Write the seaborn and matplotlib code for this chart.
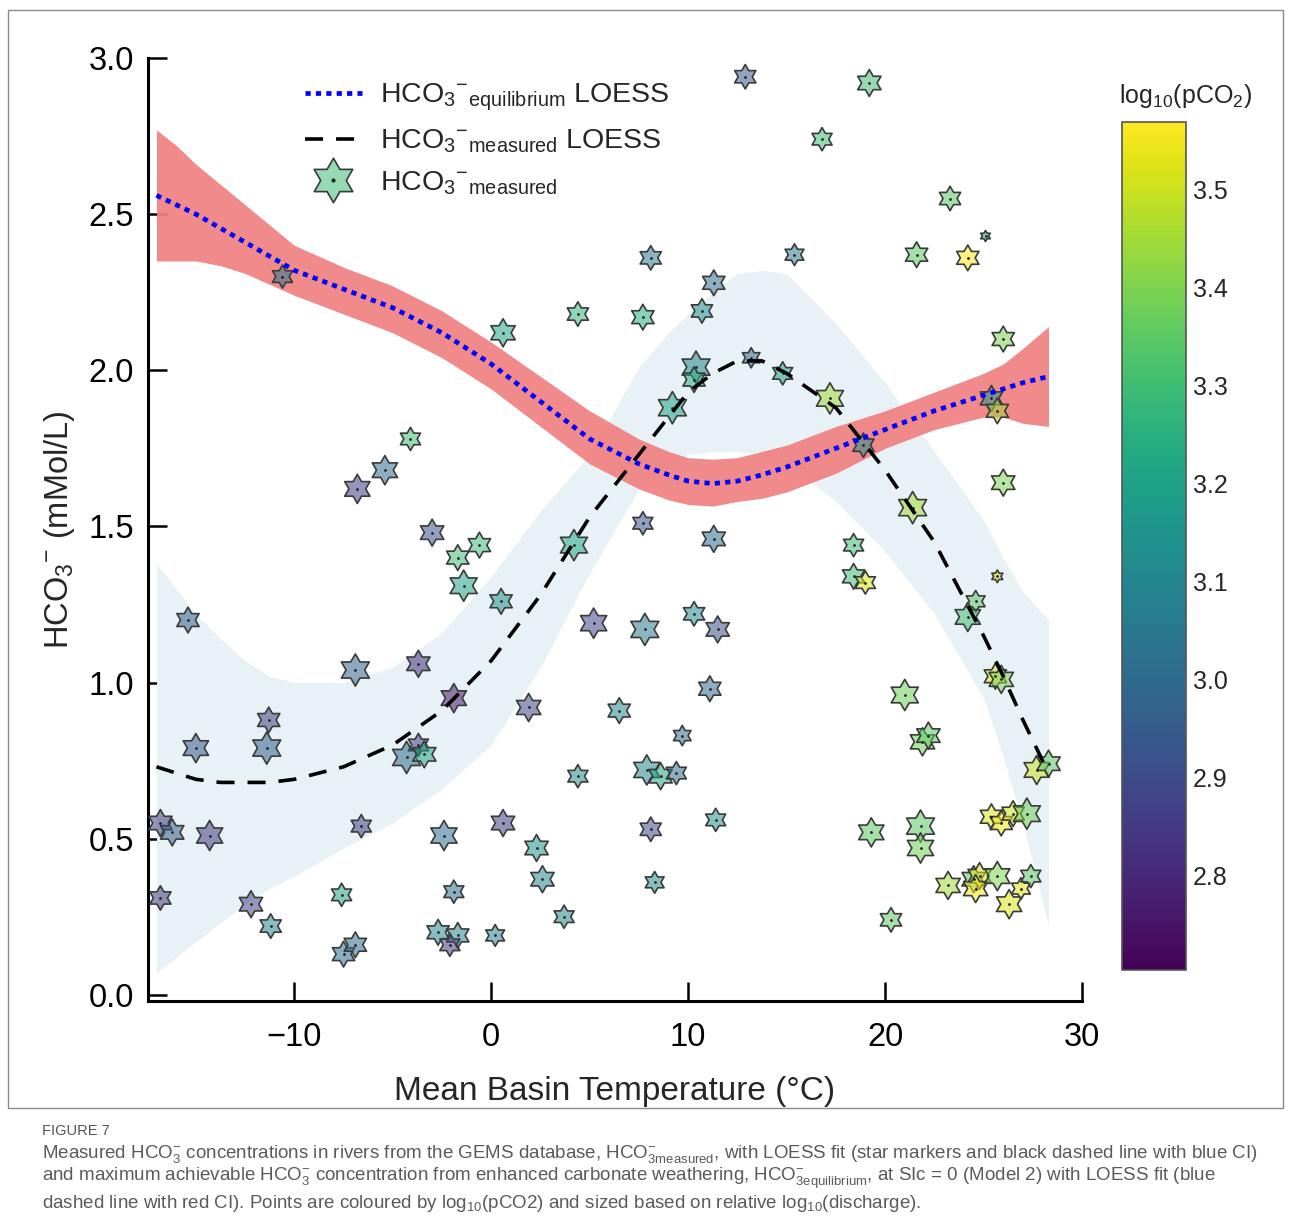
import numpy as np
import pandas as pd
import matplotlib
matplotlib.use("Agg")
import matplotlib.pyplot as plt
import matplotlib as mpl
import seaborn as sns
from matplotlib.path import Path
from matplotlib.markers import MarkerStyle
from matplotlib.lines import Line2D
from matplotlib.patches import Rectangle
from matplotlib.legend_handler import HandlerTuple
from matplotlib.font_manager import fontManager

# ---------------- data ----------------
temperature = [12.9, 19.2, 16.8, 23.3, 25.1, 15.4, 21.6, 24.2, 8.1, -10.6,
               11.3, 4.4, 7.7, 10.7, 0.6, 26.0, 13.2, 10.4, 10.3, 14.8,
               17.2, 9.2, 25.4, 25.7, -4.1, -5.4, -6.8, 18.9, 26.0, 21.4,
               7.7, 11.3, -3.0, 4.2, -0.6, -1.7, -1.4, 18.4, 18.4, 19.0,
               25.7, 0.5, -15.4, 5.2, 7.8, 10.3, 11.5, 24.6, 24.2, -3.7,
               -6.9, 25.6, 25.9, 21.0, -1.9, 1.9, 6.5, 11.1, -11.3, -11.4,
               -15.0, 9.7, 21.9, 22.2, -3.7, -4.3, -3.4, 27.7, 28.3, 7.9,
               8.6, 9.4, 4.4, -16.8, -16.2, -14.3, -6.6, 0.6, 8.1, 11.4,
               19.3, 21.8, 21.8, 25.4, 25.9, 26.5, 27.2, -2.4, 2.3, 2.6,
               8.3, -16.8, -12.2, -11.2, -7.6, -1.9, 3.7, -2.7, -1.7, -2.1,
               0.2, -7.5, -6.9, 20.3, 23.2, 24.5, 24.8, 24.6, 26.3, 26.9,
               27.4, 25.7]
hco3_measured = [2.94, 2.92, 2.74, 2.55, 2.43, 2.37, 2.37, 2.36, 2.36, 2.30,
                 2.28, 2.18, 2.17, 2.19, 2.12, 2.10, 2.04, 2.01, 1.97, 1.99,
                 1.91, 1.88, 1.91, 1.87, 1.78, 1.68, 1.62, 1.76, 1.64, 1.56,
                 1.51, 1.46, 1.48, 1.44, 1.44, 1.40, 1.31, 1.44, 1.34, 1.32,
                 1.34, 1.26, 1.20, 1.19, 1.17, 1.22, 1.17, 1.26, 1.21, 1.06,
                 1.04, 1.02, 1.01, 0.96, 0.95, 0.92, 0.91, 0.98, 0.88, 0.79,
                 0.79, 0.83, 0.81, 0.83, 0.80, 0.76, 0.77, 0.72, 0.74, 0.72,
                 0.70, 0.71, 0.70, 0.55, 0.52, 0.51, 0.54, 0.55, 0.53, 0.56,
                 0.52, 0.54, 0.47, 0.57, 0.55, 0.58, 0.58, 0.51, 0.47, 0.37,
                 0.36, 0.31, 0.29, 0.22, 0.32, 0.33, 0.25, 0.20, 0.19, 0.16,
                 0.19, 0.13, 0.16, 0.24, 0.35, 0.37, 0.38, 0.34, 0.29, 0.34,
                 0.38, 0.38]
log_pco2 = [2.95, 3.30, 3.30, 3.35, 3.20, 3.05, 3.35, 3.56, 3.05, 3.05,
            3.00, 3.28, 3.25, 3.15, 3.22, 3.40, 2.98, 3.10, 3.25, 3.20,
            3.45, 3.20, 3.15, 3.45, 3.30, 3.00, 2.85, 3.15, 3.40, 3.45,
            2.92, 3.00, 2.92, 3.22, 3.30, 3.30, 3.20, 3.30, 3.30, 3.52,
            3.52, 3.15, 2.97, 2.88, 3.05, 3.12, 2.92, 3.35, 3.30, 2.82,
            2.97, 3.52, 3.40, 3.38, 2.75, 2.88, 3.10, 3.00, 2.87, 2.97,
            2.95, 3.00, 3.38, 3.35, 2.87, 3.00, 3.22, 3.50, 3.35, 3.10,
            3.22, 3.00, 3.12, 2.85, 2.97, 2.85, 2.87, 2.85, 2.90, 3.15,
            3.35, 3.35, 3.38, 3.52, 3.55, 3.50, 3.38, 3.02, 3.15, 3.10,
            3.12, 2.85, 2.87, 3.10, 3.20, 3.02, 3.10, 3.10, 3.10, 2.85,
            3.10, 3.00, 3.00, 3.35, 3.45, 3.35, 3.52, 3.55, 3.52, 3.52,
            3.35, 3.40]
rel_log_discharge = [0.40, 0.50, 0.35, 0.40, 0.02, 0.30, 0.45, 0.45, 0.40, 0.35,
                     0.45, 0.40, 0.45, 0.40, 0.55, 0.45, 0.25, 0.75, 0.45, 0.35,
                     0.70, 0.75, 0.45, 0.45, 0.35, 0.60, 0.60, 0.40, 0.50, 0.75,
                     0.35, 0.50, 0.50, 0.70, 0.45, 0.45, 0.70, 0.35, 0.45, 0.35,
                     0.05, 0.45, 0.45, 0.65, 0.75, 0.40, 0.50, 0.30, 0.60, 0.50,
                     0.75, 0.45, 0.55, 0.70, 0.60, 0.55, 0.45, 0.45, 0.45, 0.75,
                     0.60, 0.25, 0.55, 0.50, 0.35, 0.75, 0.50, 0.60, 0.50, 0.65,
                     0.50, 0.35, 0.35, 0.50, 0.50, 0.65, 0.35, 0.50, 0.40, 0.35,
                     0.60, 0.75, 0.65, 0.45, 0.45, 0.45, 0.70, 0.65, 0.50, 0.50,
                     0.30, 0.40, 0.50, 0.40, 0.35, 0.35, 0.35, 0.45, 0.45, 0.35,
                     0.30, 0.45, 0.45, 0.40, 0.55, 0.50, 0.50, 0.55, 0.60, 0.30,
                     0.35, 0.60]

# LOESS curves
loess_temp = [-17.0, -16.0, -15.0, -13.75, -12.5, -11.25, -10.0, -7.5, -5.0, -2.5,
              0.0, 2.5, 5.0, 7.5, 9.0, 10.0, 11.25, 12.5, 13.75, 15.0,
              17.5, 20.0, 22.5, 25.0, 26.0, 27.0, 28.3]
eq_fit = [2.56, 2.53, 2.50, 2.455, 2.41, 2.365, 2.32, 2.26, 2.20, 2.12,
          2.02, 1.90, 1.78, 1.70, 1.665, 1.645, 1.637, 1.645, 1.665, 1.69,
          1.75, 1.81, 1.87, 1.92, 1.94, 1.96, 1.98]
eq_ci_hi = [2.77, 2.72, 2.66, 2.595, 2.53, 2.465, 2.40, 2.33, 2.27, 2.19,
            2.09, 1.98, 1.87, 1.78, 1.74, 1.72, 1.715, 1.72, 1.74, 1.76,
            1.82, 1.87, 1.93, 1.99, 2.02, 2.07, 2.14]
eq_ci_lo = [2.35, 2.35, 2.35, 2.335, 2.31, 2.275, 2.24, 2.18, 2.12, 2.04,
            1.94, 1.82, 1.70, 1.62, 1.585, 1.57, 1.565, 1.58, 1.59, 1.61,
            1.67, 1.75, 1.81, 1.85, 1.85, 1.83, 1.82]
meas_fit = [0.73, 0.71, 0.69, 0.68, 0.68, 0.68, 0.69, 0.73, 0.80, 0.91,
            1.07, 1.28, 1.53, 1.73, 1.85, 1.93, 1.99, 2.03, 2.03, 1.99,
            1.88, 1.68, 1.45, 1.15, 1.02, 0.88, 0.71]
meas_ci_hi = [1.38, 1.30, 1.22, 1.14, 1.07, 1.02, 1.00, 1.00, 1.05, 1.16,
              1.34, 1.55, 1.73, 2.01, 2.12, 2.18, 2.25, 2.31, 2.32, 2.31,
              2.15, 1.96, 1.74, 1.52, 1.40, 1.29, 1.20]
meas_ci_lo = [0.07, 0.12, 0.17, 0.23, 0.29, 0.34, 0.38, 0.47, 0.55, 0.66,
              0.80, 1.05, 1.35, 1.62, 1.69, 1.73, 1.74, 1.74, 1.73, 1.70,
              1.58, 1.42, 1.22, 0.95, 0.76, 0.55, 0.22]

x_ticks = [-10, 0, 10, 20, 30]
y_ticks = [0.0, 0.5, 1.0, 1.5, 2.0, 2.5, 3.0]
cbar_ticks = [2.8, 2.9, 3.0, 3.1, 3.2, 3.3, 3.4, 3.5]
pco2_range = (2.704, 3.569)

# ---------------- style ----------------
sns.set_theme(style="ticks")
available = {f.name for f in fontManager.ttflist}
main_font = "Liberation Sans" if "Liberation Sans" in available else "DejaVu Sans"
caption_font = ("Liberation Sans Narrow" if "Liberation Sans Narrow" in available
                else main_font)
plt.rcParams["font.family"] = [main_font, "DejaVu Sans"]
plt.rcParams["mathtext.fontset"] = "custom"
plt.rcParams["mathtext.rm"] = main_font
plt.rcParams["mathtext.it"] = main_font + ":italic"
plt.rcParams["mathtext.bf"] = main_font + ":bold"
plt.rcParams["mathtext.default"] = "regular"

W, H = 1291, 1232
fig = plt.figure(figsize=(W / 100, H / 100), dpi=100)
fig.patch.set_facecolor("white")

def fx(px):
    return px / W

def fy(py):
    return 1 - py / H

ax = fig.add_axes([fx(148), fy(1001), fx(1082) - fx(148), fy(58) - fy(1001)])
ax.set_facecolor("white")

# CI bands
ax.fill_between(loess_temp, meas_ci_lo, meas_ci_hi, color="#e8f2f6", lw=0, zorder=1)
ax.fill_between(loess_temp, eq_ci_lo, eq_ci_hi, color="lightcoral", alpha=0.92,
                lw=0, zorder=2)

# hexagram marker
ang = np.deg2rad(90 + np.arange(12) * 30)
rad = np.where(np.arange(12) % 2 == 0, 1.0, 1 / np.sqrt(3))
verts = np.column_stack([rad * np.cos(ang), rad * np.sin(ang)])
verts = np.vstack([verts, verts[:1]])
codes = [Path.MOVETO] + [Path.LINETO] * 11 + [Path.CLOSEPOLY]
star = MarkerStyle(Path(verts, codes))

# viridis with translucent faces (edges stay opaque)
vir = plt.get_cmap("viridis")(np.linspace(0, 1, 256))
vir[:, 3] = 0.55
viridis_alpha = mpl.colors.ListedColormap(vir, name="viridis_alpha")

df = pd.DataFrame({"temp": temperature, "hco3": hco3_measured,
                   "pco2": log_pco2, "discharge": rel_log_discharge})

sns.scatterplot(data=df, x="temp", y="hco3", hue="pco2", palette=viridis_alpha,
                hue_norm=pco2_range, size="discharge", sizes=(50, 700),
                size_norm=(0, 1), marker=star, edgecolor="#3a3a3a",
                linewidth=1.2, legend=False, ax=ax, zorder=3)
ax.scatter(temperature, hco3_measured, s=4, c="#222222", lw=0, zorder=4)

# LOESS lines
sns.lineplot(x=loess_temp, y=meas_fit, color="black", lw=2.6,
             linestyle=(0, (5, 3.6)), ax=ax, zorder=5)
sns.lineplot(x=loess_temp, y=eq_fit, color="blue", lw=3.4,
             linestyle=(0, (1.1, 1.1)), ax=ax, zorder=6)

ax.set_xlim(-17.43, 30.0)
ax.set_ylim(-0.02, 3.0)
ax.set_xticks(x_ticks)
ax.set_yticks(y_ticks)
ax.set_yticklabels([f"{v:.1f}" for v in y_ticks])
for s in ["top", "right"]:
    ax.spines[s].set_visible(False)
for s in ["left", "bottom"]:
    ax.spines[s].set_linewidth(2.2)
    ax.spines[s].set_color("black")
ax.tick_params(direction="in", length=14, width=1.8, labelsize=23.5, pad=10,
               colors="black")
ax.tick_params(axis="x", pad=15)
ax.set_xlabel("Mean Basin Temperature (°C)", fontsize=24, labelpad=17)
ax.set_ylabel("HCO$_3$$^{-}$ (mMol/L)", fontsize=23.5, labelpad=8)

# legend
leg_col = viridis_alpha((3.30 - pco2_range[0]) / (pco2_range[1] - pco2_range[0]))
h_eq = Line2D([], [], color="blue", lw=3.4, linestyle=(0, (1.1, 1.1)))
h_me = Line2D([], [], color="black", lw=2.6, linestyle=(0, (5, 3.6)))
h_st = Line2D([], [], marker=star, markersize=32, markerfacecolor=leg_col,
              markeredgecolor="#3a3a3a", markeredgewidth=1.2, linestyle="None")
h_dot = Line2D([], [], marker="o", markersize=2, color="#222222", linestyle="None")
leg = ax.legend([h_eq, h_me, (h_st, h_dot)],
                ["HCO$_3$$^{-}$$_{\\mathrm{equilibrium}}$ LOESS",
                 "HCO$_3$$^{-}$$_{\\mathrm{measured}}$ LOESS",
                 "HCO$_3$$^{-}$$_{\\mathrm{measured}}$"],
                handler_map={tuple: HandlerTuple(ndivide=1, pad=0)},
                loc="upper left", bbox_to_anchor=((305 - 148) / 934, (1001 - 82) / 943),
                frameon=False, fontsize=20.5, borderpad=0, borderaxespad=0,
                handlelength=2.0, handletextpad=0.65, labelspacing=0.5)

# colorbar
cax = fig.add_axes([fx(1122), fy(970), fx(1186) - fx(1122), fy(122) - fy(970)])
sm = mpl.cm.ScalarMappable(norm=mpl.colors.Normalize(*pco2_range), cmap="viridis")
cb = fig.colorbar(sm, cax=cax, ticks=cbar_ticks)
cb.ax.set_yticklabels([f"{t:.1f}" for t in cbar_ticks])
cb.ax.tick_params(length=0, labelsize=18, pad=5)
cb.outline.set_edgecolor("#555555")
cb.outline.set_linewidth(1.2)
fig.text(fx(1186), fy(96), "log$_{10}$(pCO$_2$)", ha="center", va="center",
         fontsize=18)

# border around figure image
fig.patches.append(Rectangle((fx(8), fy(1108)), fx(1283) - fx(8), fy(10) - fy(1108),
                             transform=fig.transFigure, fill=False,
                             ec="#8a8a8a", lw=1.0))

# caption
cap_col = "#5a5a5a"
fig.text(fx(42), fy(1131), "FIGURE 7", fontsize=10.5, color="#555555",
         family=[caption_font, "DejaVu Sans"], va="center", ha="left")
cap_lines = [
    "Measured HCO$_3^{-}$ concentrations in rivers from the GEMS database, "
    "HCO$^{-}_{3\\mathrm{measured}}$, with LOESS fit (star markers and black dashed line with blue CI)",
    "and maximum achievable HCO$_3^{-}$ concentration from enhanced carbonate weathering, "
    "HCO$^{-}_{3\\mathrm{equilibrium}}$, at SIc = 0 (Model 2) with LOESS fit (blue",
    "dashed line with red CI). Points are coloured by log$_{10}$(pCO2) and sized based "
    "on relative log$_{10}$(discharge).",
]
for i, line in enumerate(cap_lines):
    fig.text(fx(42), fy(1154 + 24.5 * i), line, fontsize=13.5, color=cap_col,
             family=[caption_font, "DejaVu Sans"], va="center", ha="left")

fig.savefig("out.png", dpi=100, facecolor="white")
